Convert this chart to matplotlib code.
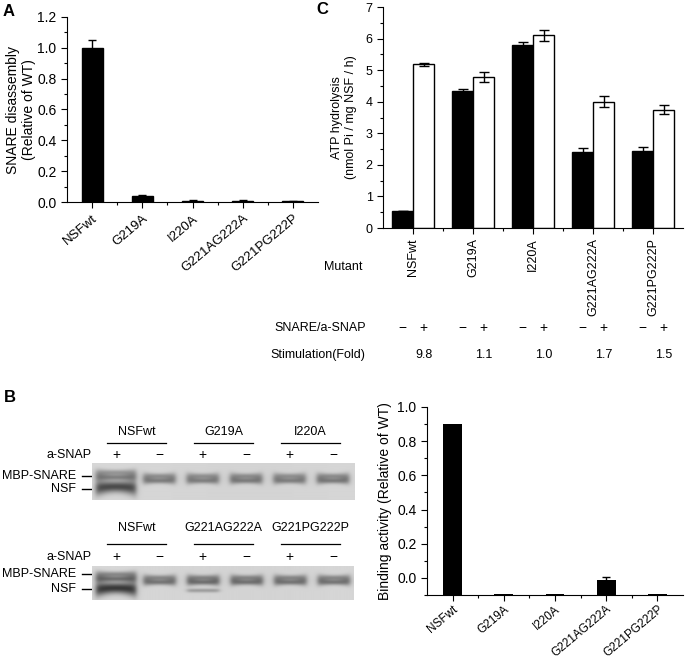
import numpy as np
import matplotlib
matplotlib.use('Agg')
import matplotlib.pyplot as plt
from matplotlib.ticker import MultipleLocator
from matplotlib.transforms import blended_transform_factory

plt.rcParams['font.family'] = ['Liberation Sans', 'DejaVu Sans']
plt.rcParams['font.size'] = 9

mutants = ['NSFwt', 'G219A', 'I220A', 'G221AG222A', 'G221PG222P']

# panel A
disassembly = [1.0, 0.04, 0.007, 0.006, 0.005]
disassembly_err = [0.05, 0.004, 0.008, 0.004, 0.002]

# panel C
atp_basal = [0.55, 4.33, 5.80, 2.40, 2.45]
atp_basal_err = [0.0, 0.06, 0.08, 0.12, 0.10]
atp_stim = [5.18, 4.78, 6.10, 4.00, 3.75]
atp_stim_err = [0.05, 0.15, 0.17, 0.17, 0.15]
fold = ['9.8', '1.1', '1.0', '1.7', '1.5']

# panel B (right)
binding = [0.9, -0.095, -0.095, -0.015, -0.095]
binding_err = [0.0, 0.0, 0.0, 0.02, 0.0]

# panel B gels
gel1_groups = ['NSFwt', 'G219A', 'I220A']
gel2_groups = ['NSFwt', 'G221AG222A', 'G221PG222P']
asnap = ['+', '\u2212', '+', '\u2212', '+', '\u2212']
gel1_mbp = [0.30, 0.33, 0.32, 0.33, 0.32, 0.34]
gel1_nsf = [0.55, 0, 0, 0, 0, 0]
gel2_mbp = [0.36, 0.36, 0.38, 0.37, 0.36, 0.36]
gel2_nsf = [0.62, 0, 0.22, 0, 0, 0]

W, H = 686, 664
fig = plt.figure(figsize=(W / 100, H / 100), dpi=100)


def box(x0, y0, x1, y1):
    return [x0 / W, 1 - y1 / H, (x1 - x0) / W, (y1 - y0) / H]


def style(ax, size):
    for s in ['top', 'right']:
        ax.spines[s].set_visible(False)
    ax.tick_params(which='major', direction='out', length=4, width=0.8, labelsize=size)
    ax.tick_params(which='minor', direction='out', length=2.5, width=0.8)


x = np.arange(len(mutants))

# ---- A
axA = fig.add_axes(box(67, 17, 318, 202))
axA.bar(x, disassembly, width=0.42, color='black', edgecolor='black')
axA.errorbar(x, disassembly, yerr=disassembly_err, fmt='none', ecolor='black',
             elinewidth=1, capsize=3, capthick=1)
axA.set_xlim(-0.5, 4.5)
axA.set_ylim(0, 1.2)
axA.yaxis.set_minor_locator(MultipleLocator(0.1))
axA.set_yticks(np.arange(0, 1.21, 0.2))
axA.set_yticklabels([f'{v:.1f}' for v in np.arange(0, 1.21, 0.2)])
axA.set_xticks(x)
axA.set_xticks(x[:-1] + 0.5, minor=True)
style(axA, 10)
axA.set_xticklabels(mutants, rotation=40, ha='right', rotation_mode='anchor', fontsize=9.5)
axA.set_ylabel('SNARE disassembly\n(Relative of WT)', labelpad=1, fontsize=10)

# ---- C
axC = fig.add_axes(box(383, 7, 683, 228))
bw = 0.35
axC.bar(x - bw / 2, atp_basal, width=bw, color='black', edgecolor='black', linewidth=1)
axC.bar(x + bw / 2, atp_stim, width=bw, color='white', edgecolor='black', linewidth=1)
axC.errorbar(x - bw / 2, atp_basal, yerr=atp_basal_err, fmt='none', ecolor='black',
             elinewidth=1, capsize=3.5, capthick=1)
axC.errorbar(x + bw / 2, atp_stim, yerr=atp_stim_err, fmt='none', ecolor='black',
             elinewidth=1, capsize=3.5, capthick=1)
axC.set_xlim(-0.5, 4.5)
axC.set_ylim(0, 7)
axC.yaxis.set_major_locator(MultipleLocator(1))
axC.yaxis.set_minor_locator(MultipleLocator(0.5))
axC.set_xticks(x)
axC.set_xticks(x[:-1] + 0.5, minor=True)
style(axC, 9)
axC.set_xticklabels(mutants, rotation=90, va='top')
axC.set_ylabel('ATP hydrolysis\n(nmol Pi / mg NSF / h)', labelpad=6)

tr = blended_transform_factory(axC.transData, fig.transFigure)
for i in x:
    axC.text(i - bw / 2, 1 - 328 / H, '\u2212', transform=tr, ha='center', va='center', fontsize=10)
    axC.text(i + bw / 2, 1 - 328 / H, '+', transform=tr, ha='center', va='center', fontsize=10)
    axC.text(i + bw / 2, 1 - 355 / H, fold[i], transform=tr, ha='center', va='center')
fig.text(343 / W, 1 - 267 / H, 'Mutant', ha='center', va='center')
fig.text(320 / W, 1 - 328 / H, 'SNARE/a-SNAP', ha='center', va='center')
fig.text(318 / W, 1 - 355 / H, 'Stimulation(Fold)', ha='center', va='center')

# ---- B right
axB = fig.add_axes(box(427, 407, 683, 595))
bottom = -0.1
axB.bar(x, np.array(binding) - bottom, bottom=bottom, width=0.37, color='black')
errs = [e if e > 0 else np.nan for e in binding_err]
axB.errorbar(x, binding, yerr=errs, fmt='none', ecolor='black', elinewidth=1,
             capsize=3, capthick=1)
axB.set_xlim(-0.5, 4.5)
axB.set_ylim(bottom, 1.0)
axB.set_yticks(np.arange(0, 1.01, 0.2))
axB.set_yticklabels([f'{v:.1f}' for v in np.arange(0, 1.01, 0.2)])
axB.yaxis.set_minor_locator(MultipleLocator(0.1))
axB.set_xticks(x)
axB.set_xticks(x[:-1] + 0.5, minor=True)
style(axB, 10)
axB.tick_params(axis='x', which='major', pad=2)
axB.set_xticklabels(mutants, rotation=40, ha='right', rotation_mode='anchor', fontsize=8.5)
axB.set_ylabel('Binding activity (Relative of WT)', labelpad=4, fontsize=10)


# ---- gels
def gel_image(mbp, nsf, w, h, mbp_y, nsf_y, scale=4):
    xs = (np.arange(int(w * scale)) + 0.5) / scale
    ys = (np.arange(int(h * scale)) + 0.5) / scale
    X, Y = np.meshgrid(xs, ys)
    img = np.full(X.shape, 0.85)
    img -= 0.02 * np.exp(-((X - w * 0.6) / (w * 0.5)) ** 2)
    for i, (a, b) in enumerate(zip(mbp, nsf)):
        cx = 24 + 43.4 * i
        half = 16 + 4 * (b > 0.4)
        dx = np.abs(X - cx)
        lane = 1 / (1 + np.exp((dx - half) / 1.5))
        bow = 1 + 0.45 * (dx / half) ** 2
        yc = mbp_y - (3.5 if b > 0.4 else 0)
        s = 1.9 * bow
        band = 0.8 * np.exp(-0.5 * ((Y - yc + 2.3) / s) ** 2) + np.exp(-0.5 * ((Y - yc - 2.3) / s) ** 2)
        if b > 0.4:
            yn = nsf_y + 1.5 * (dx / half) ** 2
            nb = np.exp(-0.5 * ((Y - yn) / (3.8 * bow)) ** 2)
        else:
            nb = np.exp(-0.5 * ((Y - nsf_y - 2.5) / 1.4) ** 2)
        img -= lane * (a * band + b * nb)
    return np.clip(img, 0, 1)


ov = fig.add_axes([0, 0, 1, 1], zorder=-1)
ov.set_xlim(0, W)
ov.set_ylim(H, 0)
ov.axis('off')

gels = [
    (gel1_groups, gel1_mbp, gel1_nsf, 92, 463, 355, 500, 16, 24, 432, 443, 455, 476, 489),
    (gel2_groups, gel2_mbp, gel2_nsf, 92, 566, 353, 600, 14, 22, 528, 544, 557, 574, 589),
]
for groups, mbp, nsf, gx0, gy0, gx1, gy1, my, ny, ty, ly, sy, y_mbp, y_nsf in gels:
    axg = fig.add_axes(box(gx0, gy0, gx1, gy1))
    gw, gh = gx1 - gx0, gy1 - gy0
    axg.imshow(gel_image(mbp, nsf, gw, gh, my, ny), cmap='gray', vmin=0, vmax=1,
               extent=(0, gw, gh, 0), aspect='auto', interpolation='bilinear')
    axg.axis('off')
    lanes = gx0 + 24 + 43.4 * np.arange(6)
    for k, name in enumerate(groups):
        l0, l1 = lanes[2 * k] - 9, lanes[2 * k + 1] + 7
        ov.plot([l0, l1], [ly, ly], color='black', lw=0.9)
        ov.text((l0 + l1) / 2, ty, name, ha='center', va='center')
    for k, sgn in enumerate(asnap):
        ov.text(lanes[k], sy, sgn, ha='center', va='center', fontsize=10)
    ov.text(gx0, sy, 'a-SNAP', ha='right', va='center')
    for yy, name in [(y_mbp, 'MBP-SNARE'), (y_nsf, 'NSF')]:
        ov.text(76, yy, name, ha='right', va='center')
        ov.plot([82, 91], [yy, yy], color='black', lw=1)

# panel letters
for lx, ly, lab in [(9, 12, 'A'), (322, 10, 'C'), (10, 397, 'B')]:
    fig.text(lx / W, 1 - ly / H, lab, ha='center', va='center', fontsize=12, fontweight='bold')

fig.savefig('out.png', dpi=100)
